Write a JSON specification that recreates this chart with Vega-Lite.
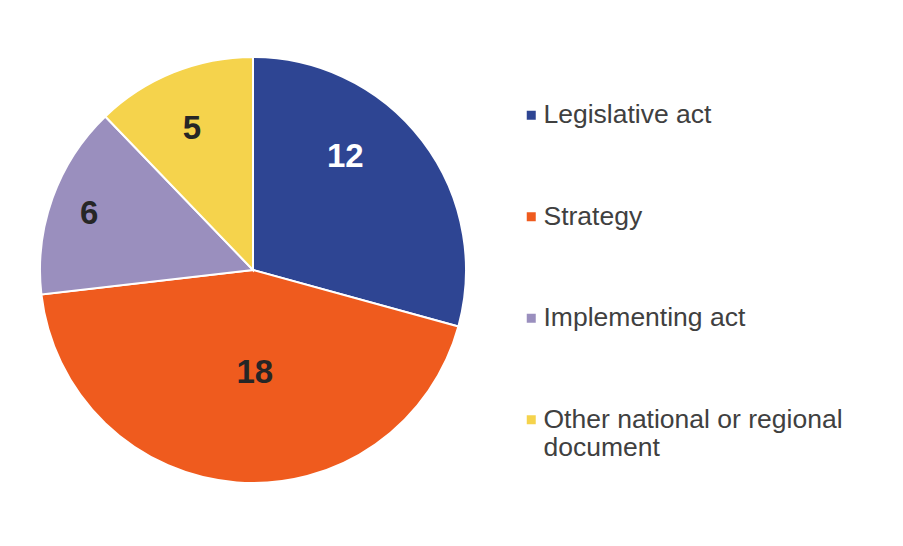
{
  "$schema": "https://vega.github.io/schema/vega-lite/v6.json",
  "width": 488,
  "height": 520,
  "padding": {"left": 9, "top": 10, "right": 0, "bottom": 0},
  "background": "white",
  "config": {"view": {"stroke": null}},
  "data": {
    "values": [
      {"category": "Legislative act", "value": 12, "idx": 1},
      {"category": "Strategy", "value": 18, "idx": 2},
      {"category": "Implementing act", "value": 6, "idx": 3},
      {"category": "Other national or regional document", "value": 5, "idx": 4}
    ]
  },
  "encoding": {
    "theta": {"field": "value", "type": "quantitative", "stack": true},
    "order": {"field": "idx", "type": "quantitative"}
  },
  "layer": [
    {
      "mark": {"type": "arc", "radius": 213, "stroke": "white", "strokeWidth": 2},
      "encoding": {
        "color": {
          "field": "category",
          "type": "nominal",
          "sort": ["Legislative act", "Strategy", "Implementing act", "Other national or regional document"],
          "scale": {
            "domain": ["Legislative act", "Strategy", "Implementing act", "Other national or regional document"],
            "range": ["#2E4593", "#EF5B1E", "#9A8FBE", "#F5D34C"]
          },
          "legend": {
            "title": null,
            "orient": "none",
            "legendX": 509,
            "legendY": 92,
            "padding": 0,
            "symbolType": "square",
            "symbolSize": 81,
            "symbolStrokeWidth": 0,
            "labelFont": "Liberation Sans",
            "labelFontSize": 26.5,
            "labelColor": "#404040",
            "labelOffset": -1,
            "labelLimit": 600,
            "rowPadding": 74.5,
            "labelExpr": "datum.label == 'Other national or regional document' ? ['Other national or regional', 'document'] : datum.label"
          }
        }
      }
    },
    {
      "mark": {"type": "text", "radius": 147, "thetaOffset": -0.24, "font": "Liberation Sans", "fontWeight": "bold", "fontSize": 33, "color": "white", "baseline": "middle", "dy": 1},
      "encoding": {
        "text": {"condition": {"test": "datum.category !== 'Legislative act'", "value": ""}, "field": "value", "type": "quantitative"}
      }
    },
    {
      "mark": {"type": "text", "radius": 174, "font": "Liberation Sans", "fontWeight": "bold", "fontSize": 33, "color": "#262626", "baseline": "middle", "dy": 3},
      "encoding": {
        "text": {"condition": {"test": "datum.category !== 'Implementing act'", "value": ""}, "field": "value", "type": "quantitative"}
      }
    },
    {
      "mark": {"type": "text", "radius": 156, "thetaOffset": -0.02, "font": "Liberation Sans", "fontWeight": "bold", "fontSize": 33, "color": "#262626", "baseline": "middle", "dy": 2},
      "encoding": {
        "text": {"condition": {"test": "datum.category !== 'Other national or regional document'", "value": ""}, "field": "value", "type": "quantitative"}
      }
    },
    {
      "mark": {"type": "text", "radius": 102, "thetaOffset": -0.094, "font": "Liberation Sans", "fontWeight": "bold", "fontSize": 33, "color": "#262626", "baseline": "middle", "dy": 1},
      "encoding": {
        "text": {"condition": {"test": "datum.category !== 'Strategy'", "value": ""}, "field": "value", "type": "quantitative"}
      }
    }
  ]
}
